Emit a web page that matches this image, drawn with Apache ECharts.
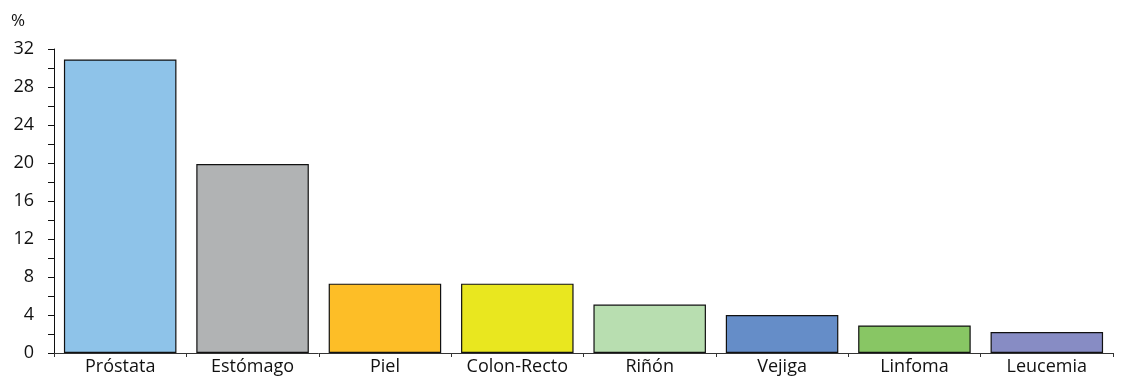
<!DOCTYPE html>
<html>
<head>
<meta charset="utf-8">
<script src="https://cdn.jsdelivr.net/npm/echarts@6/dist/echarts.min.js"></script>
<style>
html, body { margin: 0; padding: 0; background: #fff; }
#chart { width: 1125px; height: 380px; }
</style>
</head>
<body>
<div id="chart"></div>
<script>
// tipos de cáncer y porcentajes
var categorias = ['Próstata', 'Estómago', 'Piel', 'Colon-Recto', 'Riñón', 'Vejiga', 'Linfoma', 'Leucemia'];
var valores = [30.9, 19.9, 7.3, 7.3, 5.1, 4.0, 2.9, 2.2];
var colores = ['#8ec3e9', '#b1b3b4', '#fdbe27', '#e9e71f', '#b8deb0', '#658dc8', '#88c664', '#878cc4'];
var yTicks = [0, 4, 8, 12, 16, 20, 24, 28, 32];

var dom = document.getElementById('chart');
var myChart = echarts.init(dom);
var fuente = '"Open Sans", "DejaVu Sans", sans-serif';

var option = {
	animation: false,
	grid: {
		left: 54,
		right: 12,
		top: 49,
		bottom: 27
	},
	xAxis: {
		type: 'category',
		data: categorias,
		axisLine: { lineStyle: { color: '#333', width: 1 } },
		axisTick: { show: true, alignWithLabel: false, length: 4, lineStyle: { color: '#333' } },
		axisLabel: { color: '#111', fontSize: 18, fontFamily: fuente, margin: 5 }
	},
	yAxis: {
		type: 'value',
		min: yTicks[0],
		max: yTicks[yTicks.length - 1],
		interval: 4,
		name: '%',
		nameLocation: 'end',
		nameGap: 19,
		nameTextStyle: { color: '#111', fontSize: 17, fontFamily: fuente, align: 'left', padding: [0, 0, 0, -43] },
		splitLine: { show: false },
		axisLine: { show: true, lineStyle: { color: '#111', width: 1 } },
		axisTick: { show: true, length: 6, lineStyle: { color: '#111' } },
		minorTick: { show: true, splitNumber: 2, length: 6, lineStyle: { color: '#111' } },
		axisLabel: { color: '#111', fontSize: 18, fontFamily: fuente, margin: 20 }
	},
	series: [{
		type: 'bar',
		barCategoryGap: '15%',
		data: valores.map(function (v, i) {
			return { value: v, itemStyle: { color: colores[i] } };
		}),
		itemStyle: { borderColor: '#111', borderWidth: 1.2 }
	}]
};
myChart.setOption(option, true);
</script>
</body>
</html>
